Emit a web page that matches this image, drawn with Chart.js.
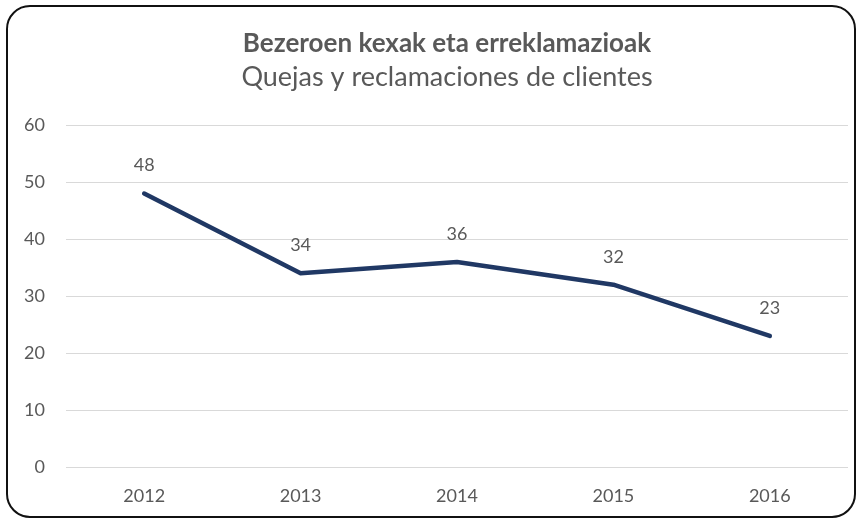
<!DOCTYPE html>
<html>
<head>
<meta charset="utf-8">
<script src="https://cdn.jsdelivr.net/npm/chart.js@4.4.1/dist/chart.umd.min.js"></script>
<style>
  html, body { margin: 0; padding: 0; background: #fff; }
  #wrap { position: relative; width: 861px; height: 520px; }
  #marco {
    position: absolute; left: 6px; top: 5px; width: 846px; height: 509px;
    border: 2px solid #111; border-radius: 24px; pointer-events: none;
  }
</style>
</head>
<body>
<div id="wrap">
  <canvas id="grafico" width="861" height="520"></canvas>
  <div id="marco"></div>
</div>
<script>
// datos
const anos = ["2012", "2013", "2014", "2015", "2016"];
const quejas = [48, 34, 36, 32, 23];
const ticksY = [0, 10, 20, 30, 40, 50, 60];

const gris = "#595959";
const fuente = "Lato, 'Open Sans', sans-serif";

// etiquetas de valor encima de cada punto
const etiquetas = {
    id: "etiquetas",
    afterDatasetsDraw(chart) {
        const ctx = chart.ctx;
        const meta = chart.getDatasetMeta(0);
        ctx.save();
        ctx.fillStyle = gris;
        ctx.font = "18px " + fuente;
        ctx.textAlign = "center";
        ctx.textBaseline = "middle";
        meta.data.forEach((p, i) => {
            ctx.fillText(quejas[i], p.x, p.y - 28);
        });
        ctx.restore();
    }
};

// el título del original está un poco a la derecha del centro
const moverTitulo = {
    id: "moverTitulo",
    afterLayout(chart) {
        chart.boxes.forEach(b => {
            if (b.position === "top" && b.options && b.options.text) {
                b.left += 18;
                b.right += 18;
            }
        });
    }
};

new Chart(document.getElementById("grafico"), {
    type: "line",
    data: {
        labels: anos,
        datasets: [{
            data: quejas,
            borderColor: "#203864",
            borderWidth: 4.5,
            pointRadius: 0,
            tension: 0,
            borderCapStyle: "round",
            borderJoinStyle: "round"
        }]
    },
    options: {
        responsive: false,
        animation: false,
        layout: { padding: { left: 10, right: 13, top: 0, bottom: 0 } },
        plugins: {
            legend: { display: false },
            tooltip: { enabled: false },
            title: {
                display: true,
                text: "Bezeroen kexak eta erreklamazioak",
                color: gris,
                font: { family: fuente, size: 26, weight: "bold" },
                padding: { top: 28, bottom: 2 }
            },
            subtitle: {
                display: true,
                text: "Quejas y reclamaciones de clientes",
                color: gris,
                font: { family: fuente, size: 27, weight: "normal" },
                padding: { top: 0, bottom: 31.6 }
            }
        },
        scales: {
            x: {
                offset: true,
                grid: { display: false, drawTicks: false },
                border: { display: false },
                ticks: { color: gris, font: { family: fuente, size: 18 }, padding: 18 },
                afterFit(s) { s.height = 53; }
            },
            y: {
                min: 0,
                max: 60,
                afterBuildTicks(s) { s.ticks = ticksY.map(v => ({ value: v })); },
                grid: { color: "#d9d9d9", lineWidth: 1, drawTicks: false },
                border: { display: false },
                ticks: { color: gris, font: { family: fuente, size: 18 }, padding: 21 },
                afterFit(s) { s.width = 56; }
            }
        }
    },
    plugins: [etiquetas, moverTitulo]
});
</script>
</body>
</html>
